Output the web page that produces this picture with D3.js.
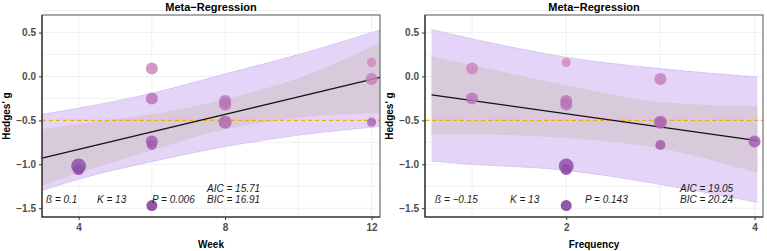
<!DOCTYPE html>
<html><head><meta charset="utf-8">
<script src="https://cdn.jsdelivr.net/npm/d3@7"></script>
<style>body{margin:0;background:#fff}svg{display:block}text{font-family:"Liberation Sans",Arial,sans-serif}</style>
</head><body><svg id="c" width="767" height="251"></svg>
<script>
// ---- data ----
const hedgesG   = [-1.02,-1.06,0.09,-0.25,-0.74,-0.78,-1.47,-0.28,-0.32,-0.52,0.16,-0.03,-0.52];
const weeks     = [4,4,6,6,6,6,6,8,8,8,12,12,12];
const freqs     = [2,2,1,1,4,3,2,2,2,3,2,3,3];
const weights   = [56,30,36,36,36,25,30,36,36,42,21,36,21];

const yTicks = [0.5,0.0,-0.5,-1.0,-1.5];
const weekTicks = [4,8,12];
const freqTicks = [2,4];

// regression fits
const weekGrid    = [3.0,4,6,8,10,12.23];
const weekPiUpper = [-0.43,-0.36,-0.19,0.03,0.25,0.53];
const weekPiLower = [-1.30,-1.17,-0.97,-0.80,-0.67,-0.57];
const weekCiUpper = [-0.60,-0.54,-0.43,-0.26,-0.02,0.38];
const weekCiLower = [-1.24,-1.10,-0.84,-0.60,-0.47,-0.42];
const weekLineX   = [3.0,12.23];
const weekLineY   = [-0.93,-0.01];

const freqGrid    = [0.57,1,2,3,4.03];
const freqPiUpper = [0.535,0.43,0.22,0.09,-0.005];
const freqPiLower = [-0.965,-1.0,-1.07,-1.23,-1.435];
const freqCiUpper = [0.23,0.13,-0.10,-0.29,-0.34];
const freqCiLower = [-0.66,-0.66,-0.70,-0.82,-1.10];
const freqLineX   = [0.57,4.03];
const freqLineY   = [-0.21,-0.73];

const weekStats = ["ß = 0.1","K = 13","P = 0.006","AIC = 15.71","BIC = 16.91"];
const freqStats = ["ß = −0.15","K = 13","P = 0.143","AIC = 19.05","BIC = 20.24"];

const svg = d3.select("#c");
const fmtY = d => d3.format(".1f")(d).replace("-", "−");
const rScale = d3.scaleSqrt().domain([0, 56]).range([0, 7.5]);
const colScale = d3.scaleLinear().domain([-1.5, 0.2]).range(["#7a3a9e", "#d38cc0"]);

function panel(o) {
  const x = d3.scaleLinear().domain(o.xDomain).range([o.left, o.right]);
  const y = d3.scaleLinear().domain([-1.6, 0.7]).range([217, 15]);
  const g = svg.append("g");
  g.append("rect").attr("x", o.left).attr("y", 15).attr("width", o.right - o.left).attr("height", 202).attr("fill", "#fff");
  // grid
  const yGrid = d3.range(-1.5, 0.76, 0.25);
  g.selectAll(null).data(yGrid).join("line")
    .attr("x1", o.left).attr("x2", o.right).attr("y1", d => y(d)).attr("y2", d => y(d))
    .attr("stroke", "#ececec").attr("stroke-width", 0.8);
  g.selectAll(null).data(o.xGrid).join("line")
    .attr("x1", d => x(d)).attr("x2", d => x(d)).attr("y1", 15).attr("y2", 217)
    .attr("stroke", "#ececec").attr("stroke-width", 0.8);
  // bands
  const rows = o.grid.map((v, i) => ({x: v, pu: o.pu[i], pl: o.pl[i], cu: o.cu[i], cl: o.cl[i]}));
  const curve = d3.curveMonotoneX;
  g.append("path").datum(rows).attr("fill", "#e3d4f8")
    .attr("d", d3.area().x(d => x(d.x)).y0(d => y(d.pl)).y1(d => y(d.pu)).curve(curve));
  g.append("path").datum(rows).attr("fill", "#d8cadb")
    .attr("d", d3.area().x(d => x(d.x)).y0(d => y(d.cl)).y1(d => y(d.cu)).curve(curve));
  ["pu", "pl"].forEach(k => {
    g.append("path").datum(rows).attr("fill", "none").attr("stroke", "#a98fe0")
      .attr("stroke-width", 0.8).attr("stroke-dasharray", "1,1").attr("opacity", 0.8)
      .attr("d", d3.line().x(d => x(d.x)).y(d => y(d[k])).curve(curve));
  });
  // reference line
  g.append("line").attr("x1", o.left).attr("x2", o.right).attr("y1", y(-0.5)).attr("y2", y(-0.5))
    .attr("stroke", "#ffa500").attr("stroke-width", 1.2).attr("stroke-dasharray", "4,3");
  // regression line
  g.append("line").attr("x1", x(o.lx[0])).attr("x2", x(o.lx[1])).attr("y1", y(o.ly[0])).attr("y2", y(o.ly[1]))
    .attr("stroke", "#111").attr("stroke-width", 1.2);
  // points
  const pts = hedgesG.map((v, i) => ({x: o.xs[i], g: v, w: weights[i]})).sort((a, b) => b.w - a.w);
  g.selectAll(null).data(pts).join("circle")
    .attr("cx", d => x(d.x)).attr("cy", d => y(d.g)).attr("r", d => rScale(d.w))
    .attr("fill", d => colScale(d.g)).attr("fill-opacity", 0.85);
  // stats text
  const st = o.stats;
  const tx = (s, xx, yy) => g.append("text").attr("x", xx).attr("y", yy).attr("font-size", 10)
    .attr("font-style", "italic").attr("fill", "#1a1a1a").text(s);
  tx(st[0], o.sx[0], 203); tx(st[1], o.sx[1], 203); tx(st[2], o.sx[2], 203);
  tx(st[3], o.sx[3], 192); tx(st[4], o.sx[3], 203);
  // border
  g.append("rect").attr("x", o.left).attr("y", 15).attr("width", o.right - o.left).attr("height", 202)
    .attr("fill", "none").attr("stroke", "#555").attr("stroke-width", 1);
  g.append("path").attr("d", `M${o.left},15V217H${o.right}`).attr("fill", "none").attr("stroke", "#222").attr("stroke-width", 1.1);
  // axes
  const yAx = g.append("g").attr("transform", `translate(${o.left},0)`)
    .call(d3.axisLeft(y).tickValues(yTicks).tickFormat(fmtY).tickSize(3).tickPadding(3));
  const xAx = g.append("g").attr("transform", `translate(0,217)`)
    .call(d3.axisBottom(x).tickValues(o.xTicks).tickFormat(d3.format("d")).tickSize(3).tickPadding(4));
  [yAx, xAx].forEach(a => {
    a.select(".domain").remove();
    a.selectAll("line").attr("stroke", "#333");
    a.selectAll("text").attr("font-size", 10).attr("font-weight", "bold").attr("fill", "#4d4d4d")
      .attr("font-family", "Liberation Sans, Arial, sans-serif");
  });
  // titles
  const cx = (o.left + o.right) / 2;
  g.append("text").attr("x", cx).attr("y", 11).attr("text-anchor", "middle")
    .attr("font-size", 11).attr("font-weight", "bold").attr("fill", "#000").text("Meta−Regression");
  g.append("text").attr("x", cx).attr("y", 248).attr("text-anchor", "middle")
    .attr("font-size", 10).attr("font-weight", "bold").attr("fill", "#000").text(o.xLabel);
  g.append("text").attr("transform", `translate(${o.left - 32},116) rotate(-90)`).attr("text-anchor", "middle")
    .attr("font-size", 10).attr("font-weight", "bold").attr("fill", "#000").text("Hedges' g");
}

panel({left: 42, right: 380, xDomain: [3.0, 12.23], xs: weeks, xTicks: weekTicks, xGrid: [4,6,8,10,12],
  grid: weekGrid, pu: weekPiUpper, pl: weekPiLower, cu: weekCiUpper, cl: weekCiLower,
  lx: weekLineX, ly: weekLineY, stats: weekStats, sx: [46, 97, 152, 207], xLabel: "Week"});
panel({left: 425, right: 763, xDomain: [0.5, 4.09], xs: freqs, xTicks: freqTicks, xGrid: [1,2,3,4],
  grid: freqGrid, pu: freqPiUpper, pl: freqPiLower, cu: freqCiUpper, cl: freqCiLower,
  lx: freqLineX, ly: freqLineY, stats: freqStats, sx: [435, 510, 585, 680], xLabel: "Frequency"});
</script></body></html>
